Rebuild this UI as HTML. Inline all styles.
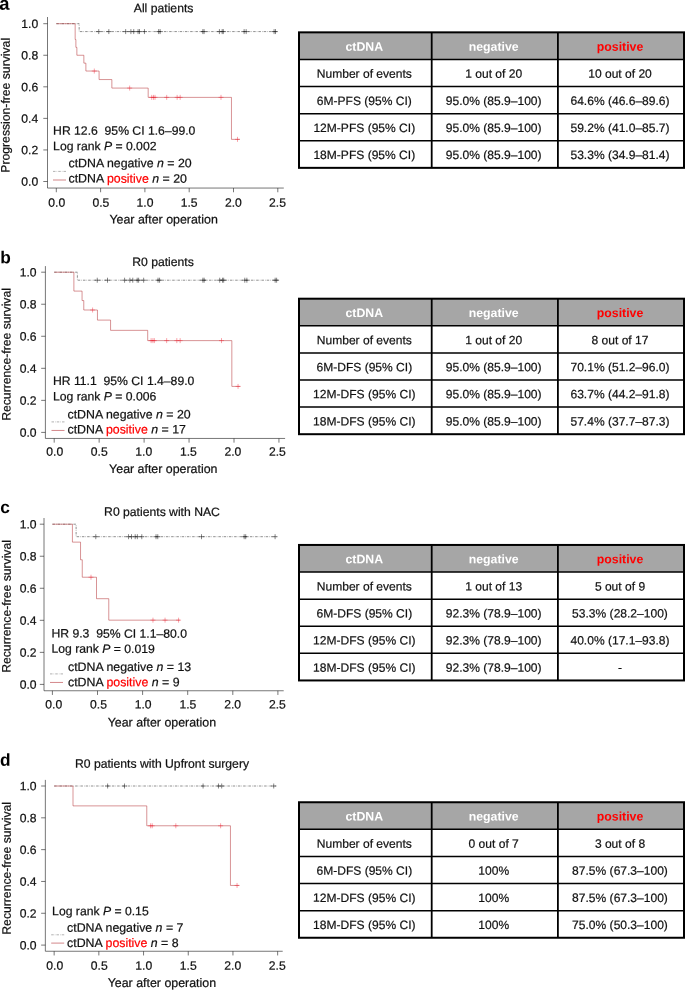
<!DOCTYPE html>
<html lang="en">
<head>
<meta charset="utf-8">
<title>ctDNA survival figure</title>
<style>
html,body{margin:0;padding:0;background:#fff;}
body{width:685px;height:990px;overflow:hidden;}
svg{display:block;font-family:"Liberation Sans", sans-serif;will-change:transform;}
.t{font-size:12.2px;fill:#111;stroke:#111;stroke-width:0.22px;white-space:pre;}
.tk{font-size:12.15px;}
.xl{font-size:12.4px;}
.lg{font-size:12.35px;}
.td{font-size:12.05px;fill:#111;stroke:#111;stroke-width:0.2px;}
.th{font-size:12.3px;font-weight:bold;fill:#fff;}
.pl{font-size:17.3px;font-weight:bold;fill:#000;}
.i{font-style:italic;}
.r{fill:#ff0000;stroke:#ff0000;}
.th.r{fill:#ff0000;stroke:none;}
.ax{fill:none;stroke:#222;stroke-width:0.62;}
.neg{fill:none;stroke:#222;stroke-width:0.5;stroke-dasharray:2.5 1.1 0.55 1.1;}
.negc{fill:none;stroke:#222;stroke-width:0.55;}
.pos{fill:none;stroke:#b0282c;stroke-width:0.5;}
.posc{fill:none;stroke:#f02030;stroke-width:0.42;}
.lgn{stroke-opacity:0.7;}
.lgp{stroke-opacity:0.8;stroke-width:0.7;}
.tin{fill:none;stroke:#000;stroke-width:1.5;}
.tv{stroke-width:1.8;}
.tout{fill:none;stroke:#000;stroke-width:2;}
</style>
</head>
<body>
<svg width="685" height="990" viewBox="0 0 685 990">
<rect width="685" height="990" fill="#fff"/>
<g id="panel-a">
<text class="pl" style="font-size:18.4px" transform="translate(-0.8 9.7) rotate(0.03)">a</text>
<text class="t" text-anchor="middle" transform="translate(163.6 12.2) rotate(0.03)">All patients</text>
<path class="ax" d="M47.5 17 V188.05 H283.8 M47.5 181.5 h-4.2 M56.3 188.05 v4.2 M47.5 149.94 h-4.2 M100.6 188.05 v4.2 M47.5 118.38 h-4.2 M144.9 188.05 v4.2 M47.5 86.82 h-4.2 M189.2 188.05 v4.2 M47.5 55.26 h-4.2 M233.5 188.05 v4.2 M47.5 23.7 h-4.2 M277.8 188.05 v4.2"/>
<text class="t tk" text-anchor="end" transform="translate(38.2 185.85) rotate(0.03)">0.0</text>
<text class="t tk" text-anchor="middle" transform="translate(56.7 206.75) rotate(0.03)">0.0</text>
<text class="t tk" text-anchor="end" transform="translate(38.2 154.29) rotate(0.03)">0.2</text>
<text class="t tk" text-anchor="middle" transform="translate(100.86 206.75) rotate(0.03)">0.5</text>
<text class="t tk" text-anchor="end" transform="translate(38.2 122.73) rotate(0.03)">0.4</text>
<text class="t tk" text-anchor="middle" transform="translate(145.02 206.75) rotate(0.03)">1.0</text>
<text class="t tk" text-anchor="end" transform="translate(38.2 91.17) rotate(0.03)">0.6</text>
<text class="t tk" text-anchor="middle" transform="translate(189.18 206.75) rotate(0.03)">1.5</text>
<text class="t tk" text-anchor="end" transform="translate(38.2 59.61) rotate(0.03)">0.8</text>
<text class="t tk" text-anchor="middle" transform="translate(233.34 206.75) rotate(0.03)">2.0</text>
<text class="t tk" text-anchor="end" transform="translate(38.2 28.05) rotate(0.03)">1.0</text>
<text class="t tk" text-anchor="middle" transform="translate(277.5 206.75) rotate(0.03)">2.5</text>
<text class="t" transform="translate(9.6 172.7) rotate(-89.97)">Progression-free survival</text>
<text class="t xl" text-anchor="middle" transform="translate(163.6 223.6) rotate(0.03)">Year after operation</text>
<path class="neg" d="M56.3 23.7 H79.16 V31.59 H277.36"/>
<path class="negc" d="M98.74 29.09 v5 M96.24 31.59 h5 M108.84 29.09 v5 M106.34 31.59 h5 M125.67 29.09 v5 M123.17 31.59 h5 M130.9 29.09 v5 M128.4 31.59 h5 M133.74 29.09 v5 M131.24 31.59 h5 M138.08 29.09 v5 M135.58 31.59 h5 M139.5 29.09 v5 M137 31.59 h5 M144.46 29.09 v5 M141.96 31.59 h5 M158.63 29.09 v5 M156.13 31.59 h5 M160.14 29.09 v5 M157.64 31.59 h5 M202.84 29.09 v5 M200.34 31.59 h5 M204.08 29.09 v5 M201.58 31.59 h5 M219.41 29.09 v5 M216.91 31.59 h5 M222.16 29.09 v5 M219.66 31.59 h5 M223.31 29.09 v5 M220.81 31.59 h5 M244.13 29.09 v5 M241.63 31.59 h5 M246.17 29.09 v5 M243.67 31.59 h5 M274.08 29.09 v5 M271.58 31.59 h5 M275.5 29.09 v5 M273 31.59 h5"/>
<path class="pos" d="M56.3 23.7 H75.17 V39.48 H75.88 V47.37 H76.86 V55.26 H83.85 V63.15 H85.89 V71.04 H99.09 V79.56 H111.85 V88.08 H148.18 V97.39 H231.46 V139.37 H239.7"/>
<path class="posc" d="M94.31 68.54 v5 M91.81 71.04 h5 M129.66 85.58 v5 M127.16 88.08 h5 M151.72 94.89 v5 M149.22 97.39 h5 M153.49 94.89 v5 M150.99 97.39 h5 M155 94.89 v5 M152.5 97.39 h5 M166.7 94.89 v5 M164.2 97.39 h5 M177.15 94.89 v5 M174.65 97.39 h5 M180.16 94.89 v5 M177.66 97.39 h5 M221.01 94.89 v5 M218.51 97.39 h5 M237.49 136.87 v5 M234.99 139.37 h5"/>
<text class="t" xml:space="preserve" transform="translate(53.1 134.8) rotate(0.03)">HR 12.6  95% CI 1.6–99.0</text>
<text class="t" transform="translate(53.1 150.3) rotate(0.03)">Log rank <tspan class="i">P</tspan> = 0.002</text>
<text class="t lg" transform="translate(68.5 167.2) rotate(0.03)">ctDNA negative <tspan class="i">n</tspan> = 20</text>
<text class="t lg" transform="translate(68.5 182.6) rotate(0.03)">ctDNA <tspan class="r">positive</tspan> <tspan class="i">n</tspan> = 20</text>
<path class="neg lgn" d="M53 171.4 H66"/>
<path class="pos lgp" d="M53 180 H66"/>
</g>
<g id="panel-b">
<text class="pl" transform="translate(0.3 263.2) rotate(0.03)">b</text>
<text class="t" text-anchor="middle" transform="translate(163 265.9) rotate(0.03)">R0 patients</text>
<path class="ax" d="M45.4 266.1 V438.45 H285.1 M45.4 432.4 h-4.2 M54.2 438.45 v4.2 M45.4 400.36 h-4.2 M99.15 438.45 v4.2 M45.4 368.32 h-4.2 M144.1 438.45 v4.2 M45.4 336.28 h-4.2 M189.05 438.45 v4.2 M45.4 304.24 h-4.2 M234 438.45 v4.2 M45.4 272.2 h-4.2 M278.95 438.45 v4.2"/>
<text class="t tk" text-anchor="end" transform="translate(36.6 436.75) rotate(0.03)">0.0</text>
<text class="t tk" text-anchor="middle" transform="translate(54.7 455.85) rotate(0.03)">0.0</text>
<text class="t tk" text-anchor="end" transform="translate(36.6 404.71) rotate(0.03)">0.2</text>
<text class="t tk" text-anchor="middle" transform="translate(99.24 455.85) rotate(0.03)">0.5</text>
<text class="t tk" text-anchor="end" transform="translate(36.6 372.67) rotate(0.03)">0.4</text>
<text class="t tk" text-anchor="middle" transform="translate(143.78 455.85) rotate(0.03)">1.0</text>
<text class="t tk" text-anchor="end" transform="translate(36.6 340.63) rotate(0.03)">0.6</text>
<text class="t tk" text-anchor="middle" transform="translate(188.32 455.85) rotate(0.03)">1.5</text>
<text class="t tk" text-anchor="end" transform="translate(36.6 308.59) rotate(0.03)">0.8</text>
<text class="t tk" text-anchor="middle" transform="translate(232.86 455.85) rotate(0.03)">2.0</text>
<text class="t tk" text-anchor="end" transform="translate(36.6 276.55) rotate(0.03)">1.0</text>
<text class="t tk" text-anchor="middle" transform="translate(277.4 455.85) rotate(0.03)">2.5</text>
<text class="t" transform="translate(10.5 420.8) rotate(-89.97)">Recurrence-free survival</text>
<text class="t xl" text-anchor="middle" transform="translate(163.3 473) rotate(0.03)">Year after operation</text>
<path class="neg" d="M54.2 272.2 H77.39 V280.21 H278.5"/>
<path class="negc" d="M97.26 277.71 v5 M94.76 280.21 h5 M107.51 277.71 v5 M105.01 280.21 h5 M124.59 277.71 v5 M122.09 280.21 h5 M129.9 277.71 v5 M127.4 280.21 h5 M132.77 277.71 v5 M130.27 280.21 h5 M137.18 277.71 v5 M134.68 280.21 h5 M138.62 277.71 v5 M136.12 280.21 h5 M143.65 277.71 v5 M141.15 280.21 h5 M158.03 277.71 v5 M155.53 280.21 h5 M159.56 277.71 v5 M157.06 280.21 h5 M202.89 277.71 v5 M200.39 280.21 h5 M204.15 277.71 v5 M201.65 280.21 h5 M219.71 277.71 v5 M217.21 280.21 h5 M222.49 277.71 v5 M219.99 280.21 h5 M223.66 277.71 v5 M221.16 280.21 h5 M244.79 277.71 v5 M242.29 280.21 h5 M246.86 277.71 v5 M244.36 280.21 h5 M275.17 277.71 v5 M272.67 280.21 h5 M276.61 277.71 v5 M274.11 280.21 h5"/>
<path class="pos" d="M54.2 272.2 H73.89 V291.1 H82.07 V300.56 H83.78 V310.01 H97.44 V320.1 H110.57 V330.35 H147.7 V340.61 H231.84 V386.42 H240.29"/>
<path class="posc" d="M92.59 307.51 v5 M90.09 310.01 h5 M151.11 338.11 v5 M148.61 340.61 h5 M152.91 338.11 v5 M150.41 340.61 h5 M154.35 338.11 v5 M151.85 340.61 h5 M166.66 338.11 v5 M164.16 340.61 h5 M176.82 338.11 v5 M174.32 340.61 h5 M180.15 338.11 v5 M177.65 340.61 h5 M221.5 338.11 v5 M219 340.61 h5 M238.05 383.92 v5 M235.55 386.42 h5"/>
<text class="t" xml:space="preserve" transform="translate(52.95 384.9) rotate(0.03)">HR 11.1  95% CI 1.4–89.0</text>
<text class="t" transform="translate(52.95 400.5) rotate(0.03)">Log rank <tspan class="i">P</tspan> = 0.006</text>
<text class="t lg" transform="translate(67.5 418.5) rotate(0.03)">ctDNA negative <tspan class="i">n</tspan> = 20</text>
<text class="t lg" transform="translate(67.5 433.5) rotate(0.03)">ctDNA <tspan class="r">positive</tspan> <tspan class="i">n</tspan> = 17</text>
<path class="neg lgn" d="M51.5 421.9 H64.5"/>
<path class="pos lgp" d="M51.5 430.45 H64.5"/>
</g>
<g id="panel-c">
<text class="pl" transform="translate(0.2 512.9) rotate(0.03)">c</text>
<text class="t" text-anchor="middle" transform="translate(162 515.9) rotate(0.03)">R0 patients with NAC</text>
<path class="ax" d="M44 518 V690.75 H283.7 M44 684.4 h-4.2 M52.4 690.75 v4.2 M44 652.36 h-4.2 M97.5 690.75 v4.2 M44 620.32 h-4.2 M142.6 690.75 v4.2 M44 588.28 h-4.2 M187.7 690.75 v4.2 M44 556.24 h-4.2 M232.8 690.75 v4.2 M44 524.2 h-4.2 M277.9 690.75 v4.2"/>
<text class="t tk" text-anchor="end" transform="translate(36.6 688.75) rotate(0.03)">0.0</text>
<text class="t tk" text-anchor="middle" transform="translate(53.7 708.55) rotate(0.03)">0.0</text>
<text class="t tk" text-anchor="end" transform="translate(36.6 656.71) rotate(0.03)">0.2</text>
<text class="t tk" text-anchor="middle" transform="translate(98.44 708.55) rotate(0.03)">0.5</text>
<text class="t tk" text-anchor="end" transform="translate(36.6 624.67) rotate(0.03)">0.4</text>
<text class="t tk" text-anchor="middle" transform="translate(143.18 708.55) rotate(0.03)">1.0</text>
<text class="t tk" text-anchor="end" transform="translate(36.6 592.63) rotate(0.03)">0.6</text>
<text class="t tk" text-anchor="middle" transform="translate(187.92 708.55) rotate(0.03)">1.5</text>
<text class="t tk" text-anchor="end" transform="translate(36.6 560.59) rotate(0.03)">0.8</text>
<text class="t tk" text-anchor="middle" transform="translate(232.66 708.55) rotate(0.03)">2.0</text>
<text class="t tk" text-anchor="end" transform="translate(36.6 528.55) rotate(0.03)">1.0</text>
<text class="t tk" text-anchor="middle" transform="translate(277.4 708.55) rotate(0.03)">2.5</text>
<text class="t" transform="translate(10.6 672.8) rotate(-89.97)">Recurrence-free survival</text>
<text class="t xl" text-anchor="middle" transform="translate(161.9 726.5) rotate(0.03)">Year after operation</text>
<path class="neg" d="M52.4 524.2 H76.12 V536.7 H276.55"/>
<path class="negc" d="M95.79 534.2 v5 M93.29 536.7 h5 M128.53 534.2 v5 M126.03 536.7 h5 M131.51 534.2 v5 M129.01 536.7 h5 M135.2 534.2 v5 M132.7 536.7 h5 M137.37 534.2 v5 M134.87 536.7 h5 M141.79 534.2 v5 M139.29 536.7 h5 M156.04 534.2 v5 M153.54 536.7 h5 M157.75 534.2 v5 M155.25 536.7 h5 M201.5 534.2 v5 M199 536.7 h5 M244.17 534.2 v5 M241.67 536.7 h5 M245.7 534.2 v5 M243.2 536.7 h5 M275.1 534.2 v5 M272.6 536.7 h5"/>
<path class="pos" d="M52.4 524.2 H72.42 V542.14 H80.54 V559.76 H82.26 V577.23 H96.51 V598.69 H108.78 V620.16 H179.76"/>
<path class="posc" d="M91.01 574.73 v5 M88.51 577.23 h5 M152.97 617.66 v5 M150.47 620.16 h5 M165.06 617.66 v5 M162.56 620.16 h5 M178.59 617.66 v5 M176.09 620.16 h5"/>
<text class="t" xml:space="preserve" transform="translate(51.45 637.6) rotate(0.03)">HR 9.3  95% CI 1.1–80.0</text>
<text class="t" transform="translate(51.45 652.85) rotate(0.03)">Log rank <tspan class="i">P</tspan> = 0.019</text>
<text class="t lg" transform="translate(68 670.9) rotate(0.03)">ctDNA negative <tspan class="i">n</tspan> = 13</text>
<text class="t lg" transform="translate(68 686.2) rotate(0.03)">ctDNA <tspan class="r">positive</tspan> <tspan class="i">n</tspan> = 9</text>
<path class="neg lgn" d="M50 673.9 H63"/>
<path class="pos lgp" d="M50 682.45 H63"/>
</g>
<g id="panel-d">
<text class="pl" transform="translate(0 765.7) rotate(0.03)">d</text>
<text class="t" text-anchor="middle" transform="translate(162 767.7) rotate(0.03)">R0 patients with Upfront surgery</text>
<path class="ax" d="M45.35 779.9 V951.25 H282.7 M45.35 945.1 h-4.2 M54.15 951.25 v4.2 M45.35 913.28 h-4.2 M98.85 951.25 v4.2 M45.35 881.46 h-4.2 M143.55 951.25 v4.2 M45.35 849.64 h-4.2 M188.25 951.25 v4.2 M45.35 817.82 h-4.2 M232.95 951.25 v4.2 M45.35 786 h-4.2 M277.65 951.25 v4.2"/>
<text class="t tk" text-anchor="end" transform="translate(36.6 949.45) rotate(0.03)">0.0</text>
<text class="t tk" text-anchor="middle" transform="translate(54.7 969.65) rotate(0.03)">0.0</text>
<text class="t tk" text-anchor="end" transform="translate(36.6 917.63) rotate(0.03)">0.2</text>
<text class="t tk" text-anchor="middle" transform="translate(99.21 969.65) rotate(0.03)">0.5</text>
<text class="t tk" text-anchor="end" transform="translate(36.6 885.81) rotate(0.03)">0.4</text>
<text class="t tk" text-anchor="middle" transform="translate(143.72 969.65) rotate(0.03)">1.0</text>
<text class="t tk" text-anchor="end" transform="translate(36.6 853.99) rotate(0.03)">0.6</text>
<text class="t tk" text-anchor="middle" transform="translate(188.23 969.65) rotate(0.03)">1.5</text>
<text class="t tk" text-anchor="end" transform="translate(36.6 822.17) rotate(0.03)">0.8</text>
<text class="t tk" text-anchor="middle" transform="translate(232.74 969.65) rotate(0.03)">2.0</text>
<text class="t tk" text-anchor="end" transform="translate(36.6 790.35) rotate(0.03)">1.0</text>
<text class="t tk" text-anchor="middle" transform="translate(277.25 969.65) rotate(0.03)">2.5</text>
<text class="t" transform="translate(10.7 934.7) rotate(-89.97)">Recurrence-free survival</text>
<text class="t xl" text-anchor="middle" transform="translate(161.9 986.9) rotate(0.03)">Year after operation</text>
<path class="neg" d="M54.15 786 H276.31"/>
<path class="negc" d="M107.61 783.5 v5 M105.11 786 h5 M124.51 783.5 v5 M122.01 786 h5 M203.09 783.5 v5 M200.59 786 h5 M218.47 783.5 v5 M215.97 786 h5 M221.69 783.5 v5 M219.19 786 h5 M273.72 783.5 v5 M271.22 786 h5"/>
<path class="pos" d="M54.15 786 H73.01 V805.89 H146.77 V825.78 H230.45 V885.44 H239.21"/>
<path class="posc" d="M150.61 823.28 v5 M148.11 825.78 h5 M152.22 823.28 v5 M149.72 825.78 h5 M175.82 823.28 v5 M173.32 825.78 h5 M220.61 823.28 v5 M218.11 825.78 h5 M237.06 882.94 v5 M234.56 885.44 h5"/>
<text class="t" transform="translate(52.1 915.2) rotate(0.03)">Log rank <tspan class="i">P</tspan> = 0.15</text>
<text class="t lg" transform="translate(67.1 931.7) rotate(0.03)">ctDNA negative <tspan class="i">n</tspan> = 7</text>
<text class="t lg" transform="translate(67.1 947) rotate(0.03)">ctDNA <tspan class="r">positive</tspan> <tspan class="i">n</tspan> = 8</text>
<path class="neg lgn" d="M51.2 934.8 H64.2"/>
<path class="pos lgp" d="M51.2 943.1 H64.2"/>
</g>
<g id="table-a">
<rect x="299" y="32.35" width="385" height="27.1" fill="#a6a6a6"/>
<path class="tin" d="M299 59.45 H684 M299 86.55 H684 M299 113.65 H684 M299 140.75 H684"/>
<path class="tin tv" d="M431.7 32.35 V167.85 M557.9 32.35 V167.85"/>
<rect class="tout" x="299" y="32.35" width="385" height="135.5"/>
<text class="th" text-anchor="middle" transform="translate(364.3 50.7) rotate(0.03)">ctDNA</text>
<text class="th" text-anchor="middle" transform="translate(493.7 50.7) rotate(0.03)">negative</text>
<text class="th r" text-anchor="middle" transform="translate(620 50.7) rotate(0.03)">positive</text>
<text class="td" text-anchor="middle" transform="translate(364.3 77.8) rotate(0.03)">Number of events</text>
<text class="td" text-anchor="middle" transform="translate(493.7 77.8) rotate(0.03)">1 out of 20</text>
<text class="td" text-anchor="middle" transform="translate(620 77.8) rotate(0.03)">10 out of 20</text>
<text class="td" text-anchor="middle" transform="translate(364.3 104.9) rotate(0.03)">6M-PFS (95% CI)</text>
<text class="td" text-anchor="middle" transform="translate(493.7 104.9) rotate(0.03)">95.0% (85.9–100)</text>
<text class="td" text-anchor="middle" transform="translate(620 104.9) rotate(0.03)">64.6% (46.6–89.6)</text>
<text class="td" text-anchor="middle" transform="translate(364.3 132) rotate(0.03)">12M-PFS (95% CI)</text>
<text class="td" text-anchor="middle" transform="translate(493.7 132) rotate(0.03)">95.0% (85.9–100)</text>
<text class="td" text-anchor="middle" transform="translate(620 132) rotate(0.03)">59.2% (41.0–85.7)</text>
<text class="td" text-anchor="middle" transform="translate(364.3 159.1) rotate(0.03)">18M-PFS (95% CI)</text>
<text class="td" text-anchor="middle" transform="translate(493.7 159.1) rotate(0.03)">95.0% (85.9–100)</text>
<text class="td" text-anchor="middle" transform="translate(620 159.1) rotate(0.03)">53.3% (34.9–81.4)</text>
</g>
<g id="table-b">
<rect x="299" y="298.7" width="385" height="27.1" fill="#a6a6a6"/>
<path class="tin" d="M299 325.8 H684 M299 352.9 H684 M299 380 H684 M299 407.1 H684"/>
<path class="tin tv" d="M431.7 298.7 V434.2 M557.9 298.7 V434.2"/>
<rect class="tout" x="299" y="298.7" width="385" height="135.5"/>
<text class="th" text-anchor="middle" transform="translate(364.3 317.05) rotate(0.03)">ctDNA</text>
<text class="th" text-anchor="middle" transform="translate(493.7 317.05) rotate(0.03)">negative</text>
<text class="th r" text-anchor="middle" transform="translate(620 317.05) rotate(0.03)">positive</text>
<text class="td" text-anchor="middle" transform="translate(364.3 344.15) rotate(0.03)">Number of events</text>
<text class="td" text-anchor="middle" transform="translate(493.7 344.15) rotate(0.03)">1 out of 20</text>
<text class="td" text-anchor="middle" transform="translate(620 344.15) rotate(0.03)">8 out of 17</text>
<text class="td" text-anchor="middle" transform="translate(364.3 371.25) rotate(0.03)">6M-DFS (95% CI)</text>
<text class="td" text-anchor="middle" transform="translate(493.7 371.25) rotate(0.03)">95.0% (85.9–100)</text>
<text class="td" text-anchor="middle" transform="translate(620 371.25) rotate(0.03)">70.1% (51.2–96.0)</text>
<text class="td" text-anchor="middle" transform="translate(364.3 398.35) rotate(0.03)">12M-DFS (95% CI)</text>
<text class="td" text-anchor="middle" transform="translate(493.7 398.35) rotate(0.03)">95.0% (85.9–100)</text>
<text class="td" text-anchor="middle" transform="translate(620 398.35) rotate(0.03)">63.7% (44.2–91.8)</text>
<text class="td" text-anchor="middle" transform="translate(364.3 425.45) rotate(0.03)">18M-DFS (95% CI)</text>
<text class="td" text-anchor="middle" transform="translate(493.7 425.45) rotate(0.03)">95.0% (85.9–100)</text>
<text class="td" text-anchor="middle" transform="translate(620 425.45) rotate(0.03)">57.4% (37.7–87.3)</text>
</g>
<g id="table-c">
<rect x="299" y="544.95" width="385" height="27.1" fill="#a6a6a6"/>
<path class="tin" d="M299 572.05 H684 M299 599.15 H684 M299 626.25 H684 M299 653.35 H684"/>
<path class="tin tv" d="M431.7 544.95 V680.45 M557.9 544.95 V680.45"/>
<rect class="tout" x="299" y="544.95" width="385" height="135.5"/>
<text class="th" text-anchor="middle" transform="translate(364.3 563.3) rotate(0.03)">ctDNA</text>
<text class="th" text-anchor="middle" transform="translate(493.7 563.3) rotate(0.03)">negative</text>
<text class="th r" text-anchor="middle" transform="translate(620 563.3) rotate(0.03)">positive</text>
<text class="td" text-anchor="middle" transform="translate(364.3 590.4) rotate(0.03)">Number of events</text>
<text class="td" text-anchor="middle" transform="translate(493.7 590.4) rotate(0.03)">1 out of 13</text>
<text class="td" text-anchor="middle" transform="translate(620 590.4) rotate(0.03)">5 out of 9</text>
<text class="td" text-anchor="middle" transform="translate(364.3 617.5) rotate(0.03)">6M-DFS (95% CI)</text>
<text class="td" text-anchor="middle" transform="translate(493.7 617.5) rotate(0.03)">92.3% (78.9–100)</text>
<text class="td" text-anchor="middle" transform="translate(620 617.5) rotate(0.03)">53.3% (28.2–100)</text>
<text class="td" text-anchor="middle" transform="translate(364.3 644.6) rotate(0.03)">12M-DFS (95% CI)</text>
<text class="td" text-anchor="middle" transform="translate(493.7 644.6) rotate(0.03)">92.3% (78.9–100)</text>
<text class="td" text-anchor="middle" transform="translate(620 644.6) rotate(0.03)">40.0% (17.1–93.8)</text>
<text class="td" text-anchor="middle" transform="translate(364.3 671.7) rotate(0.03)">18M-DFS (95% CI)</text>
<text class="td" text-anchor="middle" transform="translate(493.7 671.7) rotate(0.03)">92.3% (78.9–100)</text>
<text class="td" text-anchor="middle" transform="translate(620 671.7) rotate(0.03)">-</text>
</g>
<g id="table-d">
<rect x="299" y="802.25" width="385" height="27.1" fill="#a6a6a6"/>
<path class="tin" d="M299 829.35 H684 M299 856.45 H684 M299 883.55 H684 M299 910.65 H684"/>
<path class="tin tv" d="M431.7 802.25 V937.75 M557.9 802.25 V937.75"/>
<rect class="tout" x="299" y="802.25" width="385" height="135.5"/>
<text class="th" text-anchor="middle" transform="translate(364.3 820.6) rotate(0.03)">ctDNA</text>
<text class="th" text-anchor="middle" transform="translate(493.7 820.6) rotate(0.03)">negative</text>
<text class="th r" text-anchor="middle" transform="translate(620 820.6) rotate(0.03)">positive</text>
<text class="td" text-anchor="middle" transform="translate(364.3 847.7) rotate(0.03)">Number of events</text>
<text class="td" text-anchor="middle" transform="translate(493.7 847.7) rotate(0.03)">0 out of 7</text>
<text class="td" text-anchor="middle" transform="translate(620 847.7) rotate(0.03)">3 out of 8</text>
<text class="td" text-anchor="middle" transform="translate(364.3 874.8) rotate(0.03)">6M-DFS (95% CI)</text>
<text class="td" text-anchor="middle" transform="translate(493.7 874.8) rotate(0.03)">100%</text>
<text class="td" text-anchor="middle" transform="translate(620 874.8) rotate(0.03)">87.5% (67.3–100)</text>
<text class="td" text-anchor="middle" transform="translate(364.3 901.9) rotate(0.03)">12M-DFS (95% CI)</text>
<text class="td" text-anchor="middle" transform="translate(493.7 901.9) rotate(0.03)">100%</text>
<text class="td" text-anchor="middle" transform="translate(620 901.9) rotate(0.03)">87.5% (67.3–100)</text>
<text class="td" text-anchor="middle" transform="translate(364.3 929) rotate(0.03)">18M-DFS (95% CI)</text>
<text class="td" text-anchor="middle" transform="translate(493.7 929) rotate(0.03)">100%</text>
<text class="td" text-anchor="middle" transform="translate(620 929) rotate(0.03)">75.0% (50.3–100)</text>
</g>
</svg>
</body>
</html>
